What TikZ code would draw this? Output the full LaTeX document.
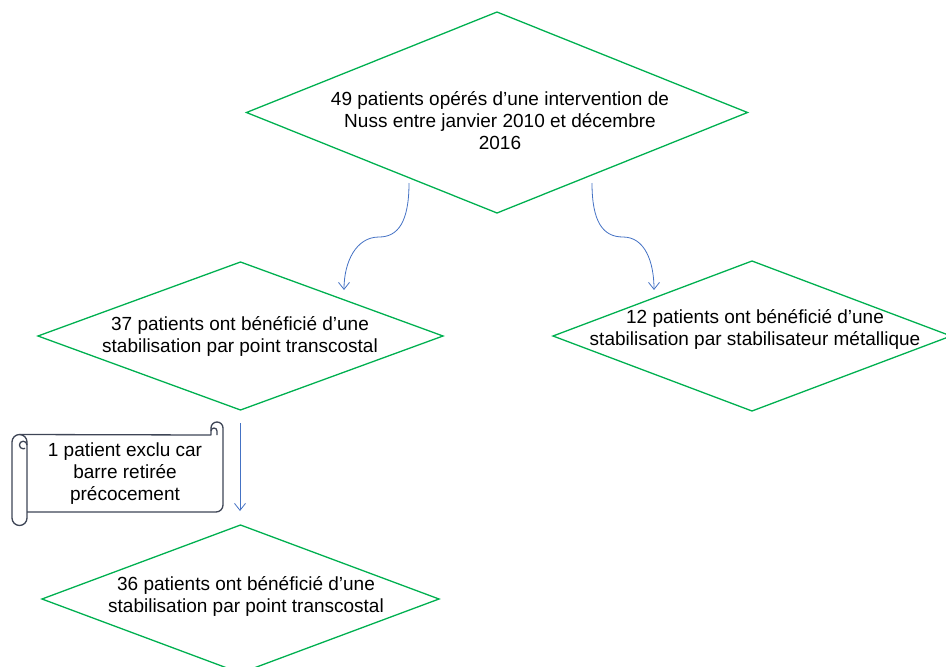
\documentclass[tikz,border=0pt]{standalone}
\usepackage{fontspec}
\setmainfont{Liberation Sans}
\usetikzlibrary{shapes.geometric,arrows.meta}
\definecolor{dgreen}{HTML}{00B050}
\definecolor{cblue}{HTML}{4472C4}
\definecolor{sgray}{HTML}{3E4556}
\begin{document}
\begin{tikzpicture}[x=1pt,y=-1pt,
  dia/.style={diamond, draw=dgreen, line width=1.3pt, inner sep=0pt, outer sep=0pt},
  txt/.style={align=center, font=\fontsize{19}{22}\selectfont, inner sep=0pt, text=black},
  conn/.style={draw=cblue, line width=0.8pt, -{Straight Barb[length=7pt,width=11pt]}},
  scrollline/.style={draw=sgray, line width=1.3pt, line join=round}]
\useasboundingbox (0,0) rectangle (946,667);
\clip (0,0) rectangle (946,667);
% diamonds
\node[dia, minimum width=501pt, minimum height=201pt] (d1) at (497,112.5) {};
\node[dia, minimum width=405pt, minimum height=148pt] (d2) at (240.5,336) {};
\node[dia, minimum width=398pt, minimum height=150pt] (d3) at (752,336) {};
\node[dia, minimum width=397pt, minimum height=148pt] (d4) at (240.5,599) {};
% texts
\node[txt] (t1) at (500,121) {49 patients opérés d’une intervention de\\Nuss entre janvier 2010 et décembre\\2016};
\node[txt] (t2) at (240,336.5) {37 patients ont bénéficié d’une\\stabilisation par point transcostal};
\node[txt] (t3) at (755,329.5) {12 patients ont bénéficié d’une\\stabilisation par stabilisateur métallique};
\node[txt] (t4) at (246,596.5) {36 patients ont bénéficié d’une\\stabilisation par point transcostal};
% scroll
\draw[scrollline] (19.5,434.5) -- (211,435) -- (211,428) arc (180:360:6) -- (223,505) arc (0:90:7) -- (27,512);
\draw[scrollline] (211,431) arc (180:360:3) -- (217,435);
\draw[scrollline] (27,442) -- (27,518) arc (0:180:7.5) -- (12,442) arc (180:360:7.5);
\draw[scrollline] (27,445) arc (0:-300:3.8);
\node[txt] (t5) at (125,474) {1 patient exclu car\\barre retirée\\précocement};
% connectors
\coordinate (a1s) at (409,183);
\coordinate (a1m) at (379,237);
\coordinate (a1e) at (344,290);
\coordinate (a2s) at (592,183);
\coordinate (a2m) at (623,237);
\coordinate (a2e) at (654,290);
\coordinate (a3s) at (240,423);
\coordinate (a3e) at (240,511);
\draw[conn] (a1s) .. controls (409,222) and (398,237) .. (a1m) .. controls (356,237) and (344,262) .. (a1e);
\draw[conn] (a2s) .. controls (592,222) and (603,237) .. (a2m) .. controls (645,237) and (654,262) .. (a2e);
\draw[conn] (a3s) -- (a3e);
\end{tikzpicture}
\end{document}
